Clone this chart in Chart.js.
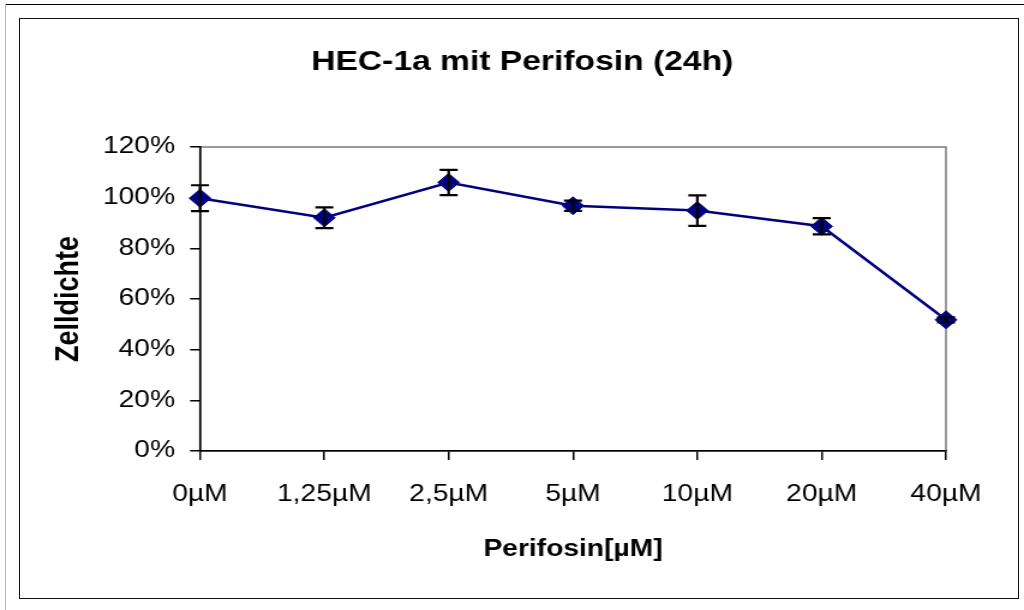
<!DOCTYPE html>
<html>
<head>
<meta charset="utf-8">
<script src="https://cdn.jsdelivr.net/npm/chart.js@4.4.1/dist/chart.umd.min.js"></script>
<style>
  html, body { margin: 0; padding: 0; background: #fff; }
  body { width: 1024px; height: 610px; position: relative; overflow: hidden; }
  #outerTop { position: absolute; left: 5px; top: 4px; width: 1019px; height: 0; border-top: 1px solid #000; }
  #outerLeft { position: absolute; left: 5px; top: 4px; width: 0; height: 606px; border-left: 1px solid #b4b4b4; }
  #frame { position: absolute; left: 19px; top: 18px; width: 998px; height: 579px; border: 1px solid #111; }
  /* the reference is stretched sideways, so the chart is drawn narrower and widened */
  #wrap { position: absolute; left: 0; top: 0; width: 853px; height: 610px; transform: scaleX(1.2005); transform-origin: 0 0; }
</style>
</head>
<body>
<div id="outerTop"></div>
<div id="outerLeft"></div>
<div id="frame"></div>
<div id="wrap"><canvas id="chart"></canvas></div>
<script>
const concentrations = ['0µM', '1,25µM', '2,5µM', '5µM', '10µM', '20µM', '40µM'];
const cellDensity = [99.8, 92.1, 106, 96.8, 94.9, 88.7, 51.8];
const densityError = [5.1, 4.1, 5, 2, 6, 3.2, 1];
const yTicks = [0, 20, 40, 60, 80, 100, 120];

const FONT = "'Liberation Sans', Arial, Helvetica, sans-serif";

const plotFrame = {
  id: 'plotFrame',
  beforeDraw(chart) {
    const { ctx, chartArea: a } = chart;
    ctx.save();
    ctx.strokeStyle = '#808080';
    ctx.lineWidth = 1.6;
    ctx.strokeRect(a.left, a.top, a.right - a.left, a.bottom - a.top);
    ctx.restore();
  },
};

const errorBars = {
  id: 'errorBars',
  afterDatasetsDraw(chart) {
    const { ctx, scales: { x, y } } = chart;
    ctx.save();
    ctx.strokeStyle = '#000';
    ctx.lineWidth = 2.2;
    cellDensity.forEach((v, i) => {
      const px = x.getPixelForValue(i);
      const top = y.getPixelForValue(v + densityError[i]);
      const bot = y.getPixelForValue(v - densityError[i]);
      const cap = 7.5;
      ctx.beginPath();
      ctx.moveTo(px, top); ctx.lineTo(px, bot);
      ctx.moveTo(px - cap, top); ctx.lineTo(px + cap, top);
      ctx.moveTo(px - cap, bot); ctx.lineTo(px + cap, bot);
      ctx.stroke();
    });
    ctx.restore();
  },
};

new Chart(document.getElementById('chart'), {
  type: 'line',
  data: {
    labels: concentrations,
    datasets: [{
      label: 'Zelldichte',
      data: cellDensity,
      borderColor: '#000080',
      backgroundColor: '#000080',
      borderWidth: 2.5,
      pointStyle: 'rectRot',
      pointRadius: 9,
      pointBorderWidth: 1,
      pointBorderColor: '#000080',
      pointBackgroundColor: '#000080',
      tension: 0,
    }],
  },
  options: {
    responsive: true,
    maintainAspectRatio: false,
    animation: false,
    layout: { padding: { top: 20, left: 17, right: 0, bottom: 12 } },
    plugins: {
      legend: { display: false },
      tooltip: { enabled: false },
      title: {
        display: true,
        text: 'HEC-1a mit Perifosin (24h)',
        color: '#000',
        font: { family: FONT, size: 28, weight: 'bold' },
        padding: { top: 25, bottom: 68.4 },
      },
    },
    scales: {
      x: {
        offset: false,
        grid: { display: true, drawOnChartArea: false, color: '#000', tickLength: 9, lineWidth: 1.5 },
        border: { display: true, color: '#000', width: 1.6 },
        ticks: { color: '#000', padding: 20, font: { family: FONT, size: 23.5 }, maxRotation: 0, autoSkip: false },
        title: {
          display: true,
          text: 'Perifosin[µM]',
          color: '#000',
          font: { family: FONT, size: 23.5, weight: 'bold' },
          padding: { top: 0, bottom: 34.5 },
        },
        afterFit: (s) => { s.height = 147; },
      },
      y: {
        min: 0,
        max: 120,
        afterBuildTicks: (s) => { s.ticks = yTicks.map((v) => ({ value: v })); },
        grid: { display: true, drawOnChartArea: false, color: '#000', tickLength: 8.3, lineWidth: 1.5 },
        border: { display: true, color: '#000', width: 1.6 },
        ticks: { color: '#000', padding: 12.5, font: { family: FONT, size: 23.5 }, callback: (v) => v + '%' },
        title: {
          display: true,
          text: 'Zelldichte',
          color: '#000',
          font: { family: FONT, size: 27, weight: 'bold' },
          padding: { top: 24.4, bottom: 0 },
        },
        afterFit: (s) => { s.width = 149.6; },
      },
      // empty spacer on the right so the title centres like the reference
      spacer: {
        type: 'linear',
        position: 'right',
        display: true,
        grid: { display: false },
        border: { display: false },
        ticks: { display: false },
        afterFit: (s) => { s.width = 65; },
      },
    },
  },
  plugins: [plotFrame, errorBars],
});
</script>
</body>
</html>
